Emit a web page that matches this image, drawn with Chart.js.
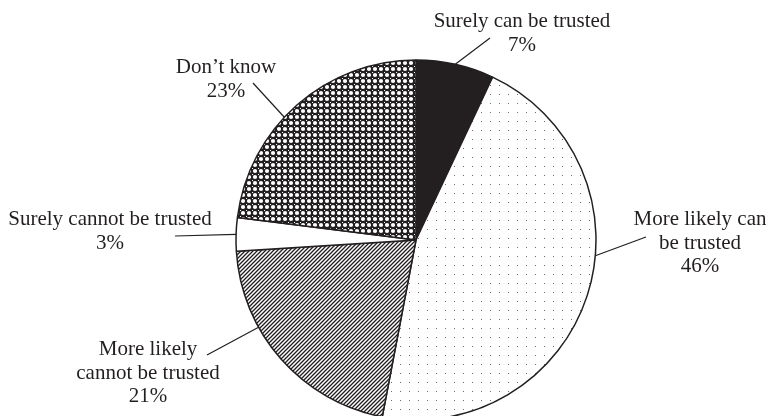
<!DOCTYPE html>
<html>
<head>
<meta charset="utf-8">
<script src="https://cdn.jsdelivr.net/npm/chart.js@4/dist/chart.umd.min.js"></script>
<style>
  body { margin: 0; background: #fff; }
  canvas { display: block; }
</style>
</head>
<body>
<canvas id="myChart" width="769" height="416"></canvas>
<script>
// answers, in clockwise order from 12 o'clock
var categories = [
    ['Surely can be trusted'],
    ['More likely can', 'be trusted'],
    ['More likely', 'cannot be trusted'],
    ['Surely cannot be trusted'],
    ['Don\u2019t know']
];
var shares = [7, 46, 21, 3, 23];

var ink = '#231f20';

// fill patterns, like the print original
function makeTile(w, h, paint) {
    var c = document.createElement('canvas');
    c.width = w;
    c.height = h;
    var g = c.getContext('2d');
    paint(g);
    return g.createPattern(c, 'repeat');
}

var dots = makeTile(9, 9, function (g) {
    g.fillStyle = '#fff';
    g.fillRect(0, 0, 9, 9);
    g.fillStyle = '#6d6d6d';
    g.fillRect(4, 4, 1, 1);
});

var hatch = makeTile(4, 4, function (g) {
    g.fillStyle = '#fff';
    g.fillRect(0, 0, 4, 4);
    g.strokeStyle = ink;
    g.lineWidth = 1.3;
    g.beginPath();
    g.moveTo(-1, 5); g.lineTo(5, -1);
    g.moveTo(-1, 1); g.lineTo(1, -1);
    g.moveTo(3, 5); g.lineTo(5, 3);
    g.stroke();
});

var mesh = makeTile(6, 6, function (g) {
    g.fillStyle = ink;
    g.fillRect(0, 0, 6, 6);
    g.fillStyle = '#fff';
    g.beginPath();
    g.arc(3, 3, 2.1, 0, Math.PI * 2);
    g.fill();
    g.fillRect(0, 0, 1, 1);
});

// where each label sits and where its leader meets the rim (deg clockwise from top, null = mid)
var labelSpots = [
    { x: 522, y: 27, fromX: 490, fromY: 38, angle: null },
    { x: 700, y: 225, fromX: 646, fromY: 237, angle: 95 },
    { x: 148, y: 355, fromX: 207, fromY: 355, angle: 241 },
    { x: 110, y: 225, fromX: 175, fromY: 236, angle: null },
    { x: 226, y: 73, fromX: 253, fromY: 83, angle: 313 }
];

var calloutPlugin = {
    id: 'callouts',
    afterDraw: function (chart) {
        var ctx = chart.ctx;
        var meta = chart.getDatasetMeta(0);
        var values = chart.data.datasets[0].data;
        ctx.save();
        ctx.font = '21px "Liberation Serif", "Times New Roman", serif';
        ctx.fillStyle = ink;
        ctx.strokeStyle = ink;
        ctx.lineWidth = 1.2;
        ctx.textAlign = 'center';
        ctx.textBaseline = 'alphabetic';
        meta.data.forEach(function (arc, i) {
            var spot = labelSpots[i];
            var p = arc.getProps(['x', 'y', 'startAngle', 'endAngle', 'outerRadius'], true);
            var a = spot.angle === null
                ? (p.startAngle + p.endAngle) / 2
                : (spot.angle - 90) * Math.PI / 180;
            var ex = p.x + Math.cos(a) * p.outerRadius;
            var ey = p.y + Math.sin(a) * p.outerRadius;
            ctx.beginPath();
            ctx.moveTo(spot.fromX, spot.fromY);
            ctx.lineTo(ex, ey);
            ctx.stroke();

            var lines = chart.data.labels[i].concat([values[i] + '%']);
            lines.forEach(function (t, k) {
                ctx.fillText(t, spot.x, spot.y + k * 23.5);
            });
        });
        ctx.restore();
    }
};

var ctx = document.getElementById('myChart');
var myChart = new Chart(ctx, {
    type: 'pie',
    data: {
        labels: categories,
        datasets: [{
            data: shares,
            backgroundColor: [ink, dots, hatch, '#ffffff', mesh],
            borderColor: ink,
            borderWidth: 1.5
        }]
    },
    options: {
        responsive: false,
        animation: false,
        radius: 180,
        layout: {
            padding: { left: 63, top: 64, right: 0, bottom: 0 }
        },
        plugins: {
            legend: { display: false },
            tooltip: { enabled: false }
        }
    },
    plugins: [calloutPlugin]
});
</script>
</body>
</html>
